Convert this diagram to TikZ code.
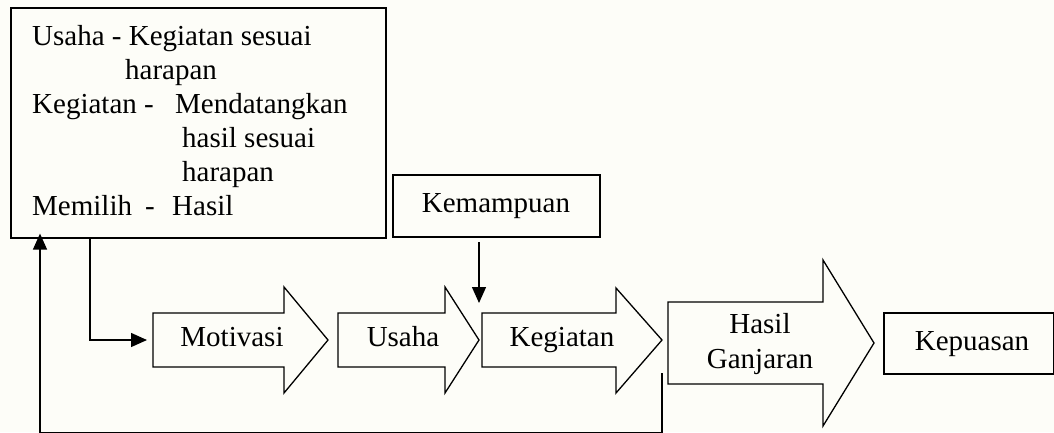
\documentclass[tikz,border=0pt]{standalone}
\usepackage{fontspec}
\setmainfont{Liberation Serif}
\usetikzlibrary{arrows.meta}
\definecolor{bg}{RGB}{253,253,248}
\tikzset{
  boxline/.style={draw=black, line width=1.6pt},
  blockarrow/.style={draw=black, line width=1.3pt, line join=miter},
  conn/.style={draw=black, line width=1.4pt},
  arr/.style={conn, -{Triangle[length=16pt,width=14pt]}},
  txt/.style={inner sep=0pt, font=\fontsize{29}{34}\selectfont},
}
\begin{document}
\begin{tikzpicture}[x=1pt,y=-1pt]
\useasboundingbox (0,0) rectangle (1054,432);
\fill[bg] (0,0) rectangle (1054,432);

% big box
\node[boxline, inner sep=0pt, minimum width=375pt, minimum height=230pt, anchor=north west] (big) at (10,7) {};
\node[txt, anchor=base west] (l1) at (32,45) {Usaha - Kegiatan sesuai};
\node[txt, anchor=base west] (l2) at (125,79) {harapan};
\node[txt, anchor=base west] (l3a) at (32,113) {Kegiatan -};
\node[txt, anchor=base west] (l3b) at (175,113) {Mendatangkan};
\node[txt, anchor=base west] (l4) at (182,147) {hasil sesuai};
\node[txt, anchor=base west] (l5) at (182,181) {harapan};
\node[txt, anchor=base west] (l6a) at (32,215) {Memilih};
\node[txt, anchor=base west] (l6b) at (145,215) {-};
\node[txt, anchor=base west] (l6c) at (172,215) {Hasil};

% Kemampuan box
\node[boxline, inner sep=0pt, minimum width=207pt, minimum height=62pt, anchor=north west] (kem) at (392,174) {};
\node[txt, anchor=base] (kemt) at (496,212) {Kemampuan};

% Kepuasan box
\node[boxline, line width=1.5pt, inner sep=0pt, minimum width=170pt, minimum height=61pt, anchor=north west] (kep) at (883,312) {};
\node[txt, anchor=base] (kept) at (972,350) {Kepuasan};

% block arrows
\draw[blockarrow] (153,313) -- (284,313) -- (284,287) -- (328,340) -- (284,393) -- (284,367) -- (153,367) -- cycle;
\node[txt, anchor=base] (mot) at (232,346) {Motivasi};
\coordinate (motw) at (153,340);

\draw[blockarrow] (338,313) -- (445,313) -- (445,287) -- (479,340) -- (445,393) -- (445,367) -- (338,367) -- cycle;
\node[txt, anchor=base] (usa) at (403,346) {Usaha};

\draw[blockarrow] (482,313) -- (616,313) -- (616,288) -- (662,340) -- (616,393) -- (616,367) -- (482,367) -- cycle;
\node[txt, anchor=base] (keg) at (562,346) {Kegiatan};

\draw[blockarrow] (668,302) -- (823,302) -- (823,260) -- (874,343) -- (823,426) -- (823,384) -- (668,384) -- cycle;
\node[txt, anchor=base] (has1) at (760,333) {Hasil};
\node[txt, anchor=base] (has2) at (760,368) {Ganjaran};

% connectors
\coordinate (kemA) at (479,242);
\coordinate (kemB) at (479,303);
\draw[arr] (kemA) -- (kemB);

\draw[arr] (big.south -| 90,0) |- ([xshift=-6pt]motw);

\coordinate (fb1) at (662,373);
\coordinate (fb2) at (662,432.6);
\coordinate (fb3) at (40,432.6);
\draw[arr] (fb1) -- (fb2) -- (fb3) -- ([yshift=5pt]big.south -| fb3);
\end{tikzpicture}
\end{document}
